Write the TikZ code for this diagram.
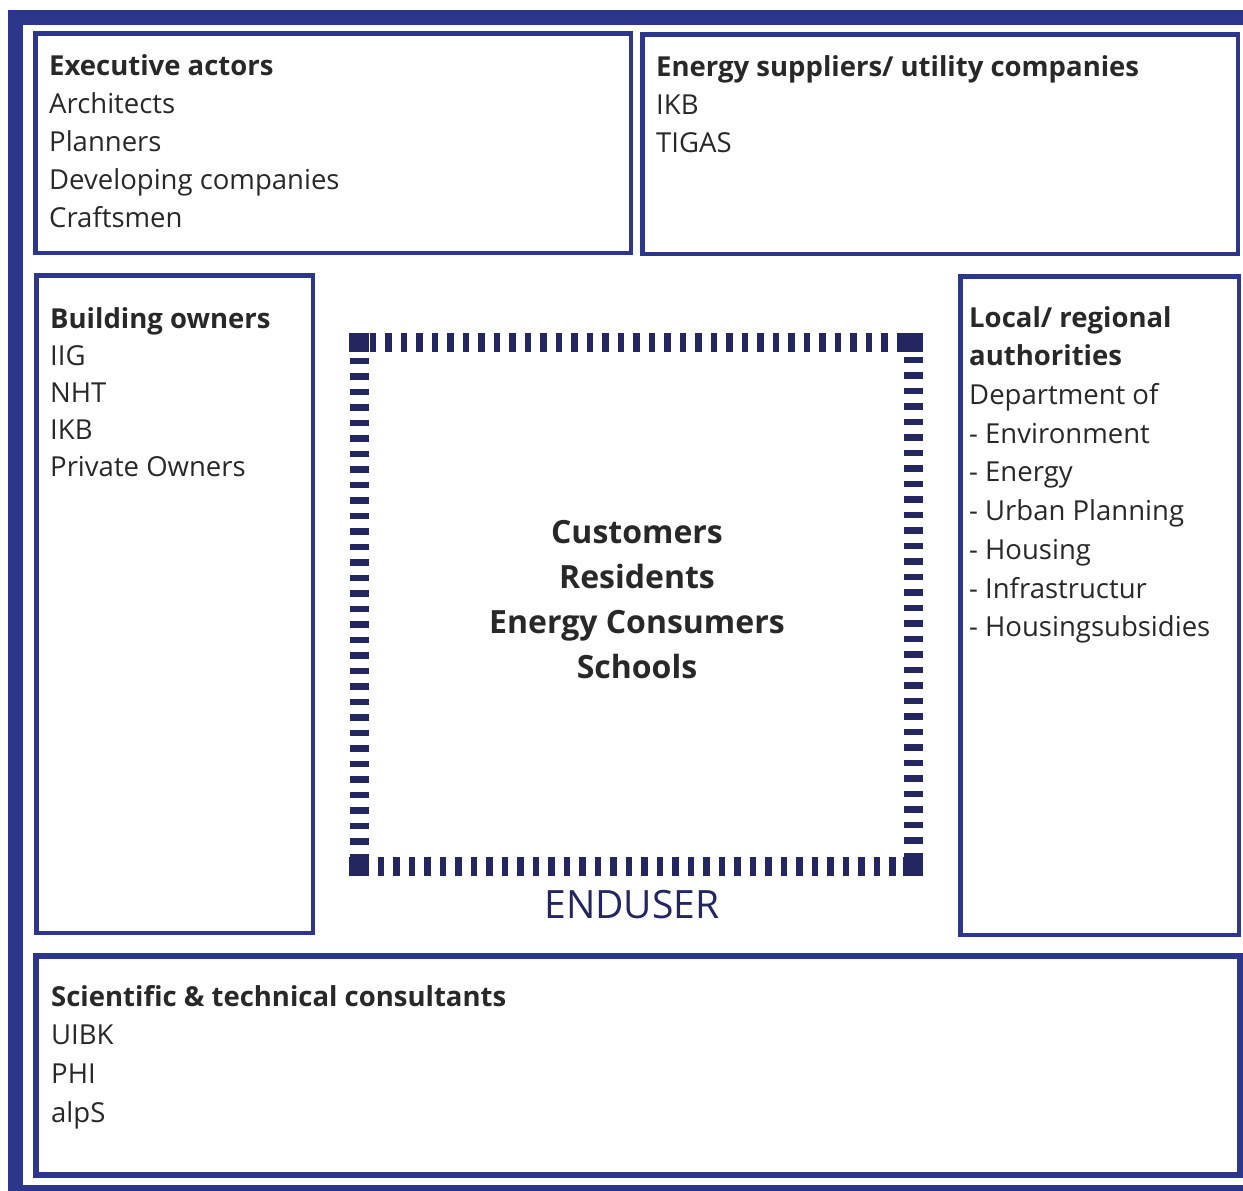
\documentclass[tikz,border=0pt]{standalone}
\usepackage{fontspec}
\setmainfont{Open Sans}
\usetikzlibrary{positioning}

\definecolor{frameblue}{RGB}{44,55,140}
\definecolor{usernavy}{RGB}{35,38,95}
\definecolor{txtgray}{RGB}{40,40,40}

\tikzset{
  box/.style={draw=frameblue, line width=4.5pt, inner sep=0pt, anchor=north west},
  actors/.style={anchor=north west, align=left, inner sep=0pt, text=txtgray,
    font=\fontsize{27.5}{#1}\selectfont},
  actors/.default=38,
  users/.style={align=center, inner sep=0pt, text=txtgray,
    font=\fontsize{32}{45}\selectfont\bfseries},
}

\begin{document}
\begin{tikzpicture}[x=1pt, y=-1pt]
\useasboundingbox (0,0) rectangle (1243,1191);
\fill[white] (0,0) rectangle (1243,1191);

% outer frame
\draw[frameblue, line width=15pt] (15.5,17.5) rectangle (1262,1192);

% actor boxes
\node[box, minimum width=595.5pt, minimum height=219.5pt] (exec) at (33,31) {};
\node[box, minimum width=595.5pt, minimum height=219.5pt] (energy) at (640,32) {};
\node[box, minimum width=276.5pt, minimum height=657.5pt] (owners) at (34,273) {};
\node[box, minimum width=278.5pt, minimum height=658.5pt] (authority) at (958,274) {};
\node[box, line width=6pt, minimum width=1204pt, minimum height=219pt] (science) at (33,953) {};

\node[actors, below right=23pt and 16pt of exec.north west] (exectxt)
  {\textbf{Executive actors}\\Architects\\Planners\\Developing companies\\Craftsmen};
\node[actors, below right=23pt and 16pt of energy.north west] (energytxt)
  {\textbf{Energy suppliers/ utility companies}\\IKB\\TIGAS};
\node[actors=37, below right=34pt and 16pt of owners.north west] (ownerstxt)
  {\textbf{Building owners}\\IIG\\NHT\\IKB\\Private Owners};
\node[actors=38.7, below right=32pt and 11pt of authority.north west] (authoritytxt)
  {\textbf{Local/ regional}\\\textbf{authorities}\\Department of\\- Environment\\- Energy\\- Urban Planning\\- Housing\\- Infrastructur\\- Housingsubsidies};
\node[actors=38.7, below right=32pt and 18pt of science.north west] (sciencetxt)
  {\textbf{Scientific \& technical consultants}\\UIBK\\PHI\\alpS};

% end user square
\draw[usernavy, line width=19pt, dash pattern=on 6.5pt off 9pt] (359,342) rectangle (913,866);
\foreach \cx/\cy in {359/342, 913/342, 359/866, 913/866}
  \fill[usernavy] (\cx-10,\cy-9.5) rectangle (\cx+10,\cy+9.5);

\node[users] (enduser) at (637,600) {Customers\\Residents\\Energy Consumers\\Schools};
\node[text=usernavy, inner sep=0pt, font=\fontsize{39}{39}\selectfont] (endlabel) at (632,905) {ENDUSER};
\end{tikzpicture}
\end{document}
